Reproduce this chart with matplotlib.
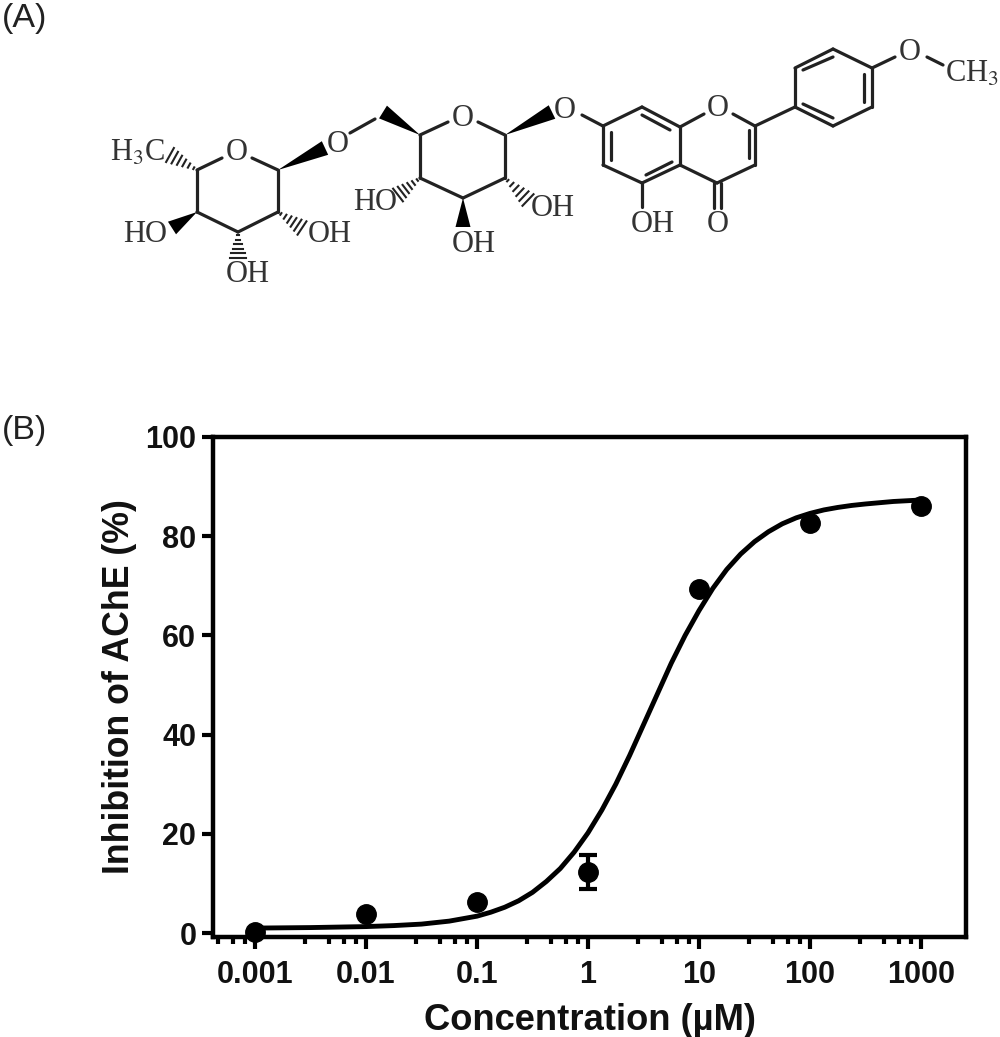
import numpy as np
import matplotlib
matplotlib.use("Agg")
import matplotlib.pyplot as plt
from matplotlib.patches import Polygon
from matplotlib.ticker import LogLocator, NullFormatter, FixedLocator

# measured data (panel B)
conc = [0.001, 0.01, 0.1, 1, 10, 100, 1000]
inhibition = [0.3, 3.8, 6.2, 12.3, 69.4, 82.7, 86.1]
inhibition_err = [0, 0, 0, 3.5, 0, 0, 0]

# fitted curve
curve_logx = [-3, -2.5, -2, -1.75, -1.5, -1.25, -1, -0.875, -0.75, -0.625, -0.5, -0.375,
              -0.25, -0.125, 0, 0.125, 0.25, 0.375, 0.5, 0.625, 0.75, 0.875, 1, 1.125,
              1.25, 1.375, 1.5, 1.625, 1.75, 1.875, 2, 2.125, 2.25, 2.375, 2.5, 2.75, 3]
curve_y = [1.0, 1.1, 1.3, 1.5, 1.8, 2.4, 3.4, 4.2, 5.2, 6.5, 8.2, 10.4,
           13.0, 16.3, 20.2, 24.8, 30.0, 35.8, 42.0, 48.2, 54.4, 60.0, 65.0, 69.5,
           73.3, 76.4, 78.9, 80.9, 82.5, 83.7, 84.6, 85.3, 85.8, 86.2, 86.5, 87.0, 87.3]

x_ticks = [0.001, 0.01, 0.1, 1, 10, 100, 1000]
x_labels = ["0.001", "0.01", "0.1", "1", "10", "100", "1000"]
y_ticks = [0, 20, 40, 60, 80, 100]

# molecule drawing, panel A (pixel positions in the page)
bonds = [
    ((197, 170), (222, 158)), ((252, 158), (278, 170)), ((278, 170), (278, 212)),
    ((278, 212), (238, 232)), ((238, 232), (197, 212)), ((197, 212), (197, 170)),
    ((350, 133), (375, 119)),
    ((420, 135), (448, 122)), ((478, 122), (505, 135)), ((505, 135), (505, 178)),
    ((505, 178), (463, 198)), ((463, 198), (420, 178)), ((420, 178), (420, 135)),
    ((582, 115), (603, 126)),
    ((603, 126), (642, 107)), ((642, 107), (680, 127)), ((680, 127), (680, 165)),
    ((680, 165), (642, 183)), ((642, 183), (603, 165)), ((603, 165), (603, 126)),
    ((680, 127), (704, 114)), ((733, 114), (755, 126)), ((755, 126), (755, 165)),
    ((755, 165), (717, 183)), ((717, 183), (680, 165)),
    ((642, 183), (642, 207)), ((714, 183), (714, 208)), ((721, 183), (721, 208)),
    ((755, 126), (795, 107)), ((795, 107), (795, 68)), ((795, 68), (833, 49)),
    ((833, 49), (872, 68)), ((872, 68), (872, 107)), ((872, 107), (833, 126)),
    ((833, 126), (795, 107)), ((872, 68), (895, 57)), ((927, 57), (943, 65)),
    # inner lines of the double bonds
    ((611, 160), (611, 132)), ((642, 115), (670, 130)), ((672, 162), (646, 175)),
    ((749, 130), (749, 158)), ((803, 70), (833, 57)), ((864, 74), (864, 102)),
    ((803, 104), (833, 118)),
]
wedges = [
    ((278, 170), (325, 148)), ((420, 135), (383, 112)), ((505, 135), (552, 112)),
    ((197, 212), (172, 228)), ((463, 198), (463, 227)),
]
hashes = [
    ((197, 170), (170, 155)), ((238, 232), (238, 258)), ((278, 212), (302, 228)),
    ((420, 178), (398, 195)), ((505, 178), (528, 200)),
]
atom_labels = [
    (338, 144, "O"), (237, 153, "O"), (463, 118, "O"), (565, 111, "O"), (718, 109, "O"),
    (910, 53, "O"), (718, 225, "O"), (653, 225, "OH"), (553, 209, "OH"), (375, 202, "HO"),
    (474, 245, "OH"), (145, 234, "HO"), (330, 234, "OH"), (248, 275, "OH"),
    (138, 153, "H$_3$C"), (972, 74, "CH$_3$"),
]


def draw_molecule(ax):
    ink = "#222222"
    for p, q in bonds:
        ax.plot([p[0], q[0]], [p[1], q[1]], color=ink, lw=2.3, solid_capstyle="round")
    for p, q in wedges:
        d = np.array(q, float) - np.array(p, float)
        n = np.array([-d[1], d[0]]) / np.hypot(*d) * 7.5
        ax.add_patch(Polygon([p, np.array(q) + n, np.array(q) - n], color="black", lw=0))
    for p, q in hashes:
        p, q = np.array(p, float), np.array(q, float)
        d = q - p
        n = np.array([-d[1], d[0]]) / np.hypot(*d)
        for t in np.linspace(0.12, 1, 6):
            c = p + d * t
            ax.plot(*zip(c - n * 8 * t, c + n * 8 * t), color=ink, lw=1.5)
    for x, y, s in atom_labels:
        ax.text(x, y, s, family="Liberation Serif", fontsize=22, color="#333333",
                ha="center", va="center", math_fontfamily="stix")


plt.rcParams["font.family"] = ["Liberation Sans", "DejaVu Sans"]
fig = plt.figure(figsize=(10, 10.37), dpi=100)

# page overlay in pixels for the panel letters and the structure
page = fig.add_axes([0, 0, 1, 1])
page.set_xlim(0, 1000)
page.set_ylim(1037, 0)
page.axis("off")
page.text(2, 18, "(A)", fontsize=24.5, color="#222222", ha="left", va="center")
page.text(2, 430, "(B)", fontsize=24.5, color="#222222", ha="left", va="center")
draw_molecule(page)

# chart axes
ax = fig.add_axes([213 / 1000, 1 - 937 / 1037, 753 / 1000, 500 / 1037])
ax.patch.set_alpha(0)
ax.set_xscale("log")
ax.set_xlim(10 ** -3.378, 10 ** 3.405)
ax.set_ylim(-0.8, 100)
ax.plot(10.0 ** np.array(curve_logx), curve_y, color="black", lw=3.5, zorder=3)
ax.errorbar(conc, inhibition, yerr=inhibition_err, fmt="o", color="black", ms=14,
            elinewidth=3, capsize=6.5, capthick=3, clip_on=False, zorder=4)

for side in ax.spines.values():
    side.set_linewidth(3.2)
ax.xaxis.set_major_locator(FixedLocator(x_ticks))
ax.set_xticklabels(x_labels)
ax.xaxis.set_minor_locator(LogLocator(base=10, subs=[2.8, 4.6, 6.3, 8.1], numticks=20))
ax.xaxis.set_minor_formatter(NullFormatter())
ax.set_yticks(y_ticks)
ax.tick_params(axis="x", which="major", length=8.6, width=3, pad=8, labelsize=22)
ax.tick_params(axis="x", which="minor", length=5, width=3)
ax.tick_params(axis="y", length=8, width=3, pad=4, labelsize=22)
for label in ax.get_xticklabels() + ax.get_yticklabels():
    label.set_fontweight("bold")
    label.set_color("#111111")
ax.set_xlabel("Concentration (µM)", fontsize=26.2, fontweight="bold", labelpad=9, color="#111111")
ax.set_ylabel("Inhibition of AChE (%)", fontsize=25.7, fontweight="bold", labelpad=6, color="#111111")

fig.savefig("out.png", dpi=100)
